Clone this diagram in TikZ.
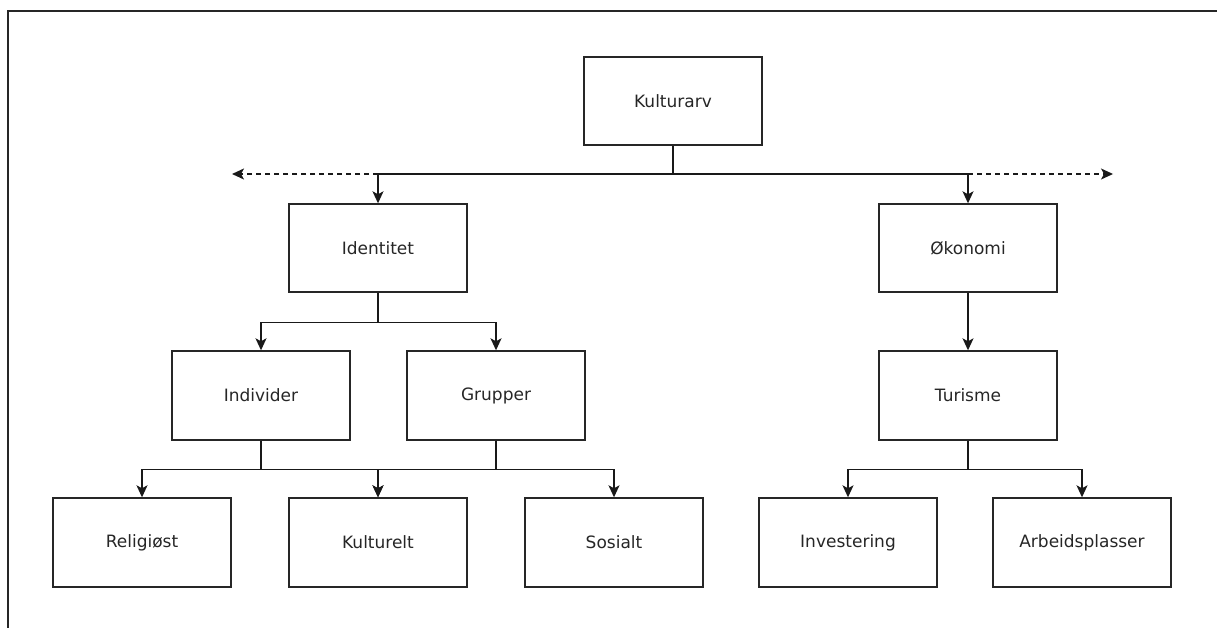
\documentclass[tikz,border=0pt]{standalone}
\usepackage{fontspec}
\setmainfont{DejaVu Sans}
\usetikzlibrary{arrows.meta}

\begin{document}
\begin{tikzpicture}[x=1pt, y=-1pt,
  box/.style={draw=black!85, line width=1.4pt, minimum width=178pt, minimum height=88pt,
    inner sep=0pt, font=\fontsize{17}{20}\selectfont, text=black!85},
  arr/.style={draw=black!90, line width=1.4pt, -{Stealth[length=12pt,width=11pt,inset=3pt]}},
  dashedline/.style={dash pattern=on 5pt off 4pt}]
\useasboundingbox (0,0) rectangle (1217,628);
\draw[line width=2pt, black!85] (8,628) -- (8,11) -- (1217,11);

\node[box] (kulturarv) at (673,101) {Kulturarv};
\node[box] (identitet) at (378,248) {Identitet};
\node[box] (okonomi) at (968,248) {Økonomi};
\node[box, minimum height=89pt] (individer) at (261,395.5) {Individer};
\node[box, minimum height=89pt] (grupper) at (496,395.5) {Grupper};
\node[box, minimum height=89pt] (turisme) at (968,395.5) {Turisme};
\node[box, minimum height=89pt] (religiost) at (142,542.5) {Religiøst};
\node[box, minimum height=89pt] (kulturelt) at (378,542.5) {Kulturelt};
\node[box, minimum height=89pt] (sosialt) at (614,542.5) {Sosialt};
\node[box, minimum height=89pt] (investering) at (848,542.5) {Investering};
\node[box, minimum height=89pt] (arbeid) at (1082,542.5) {Arbeidsplasser};

\coordinate (kj) at (673,174);
\coordinate (leftend) at (232,174);
\coordinate (rightend) at (1113,174);

\draw[black!90, line width=1.4pt] (kulturarv.south) -- (kj);
\draw[arr] (kj) -| (identitet.north);
\draw[arr] (kj) -| (okonomi.north);
\draw[arr, dashedline] (identitet.north |- kj) -- (leftend);
\draw[arr, dashedline] (okonomi.north |- kj) -- (rightend);

\foreach \a in {individer, grupper}
  \draw[arr] (identitet.south) -- ++(0,30) -| (\a.north);
\foreach \a in {religiost, kulturelt}
  \draw[arr] (individer.south) -- ++(0,29) -| (\a.north);
\foreach \a in {kulturelt, sosialt}
  \draw[arr] (grupper.south) -- ++(0,29) -| (\a.north);

\draw[arr] (okonomi.south) -- (turisme.north);
\foreach \a in {investering, arbeid}
  \draw[arr] (turisme.south) -- ++(0,29) -| (\a.north);

\end{tikzpicture}
\end{document}
